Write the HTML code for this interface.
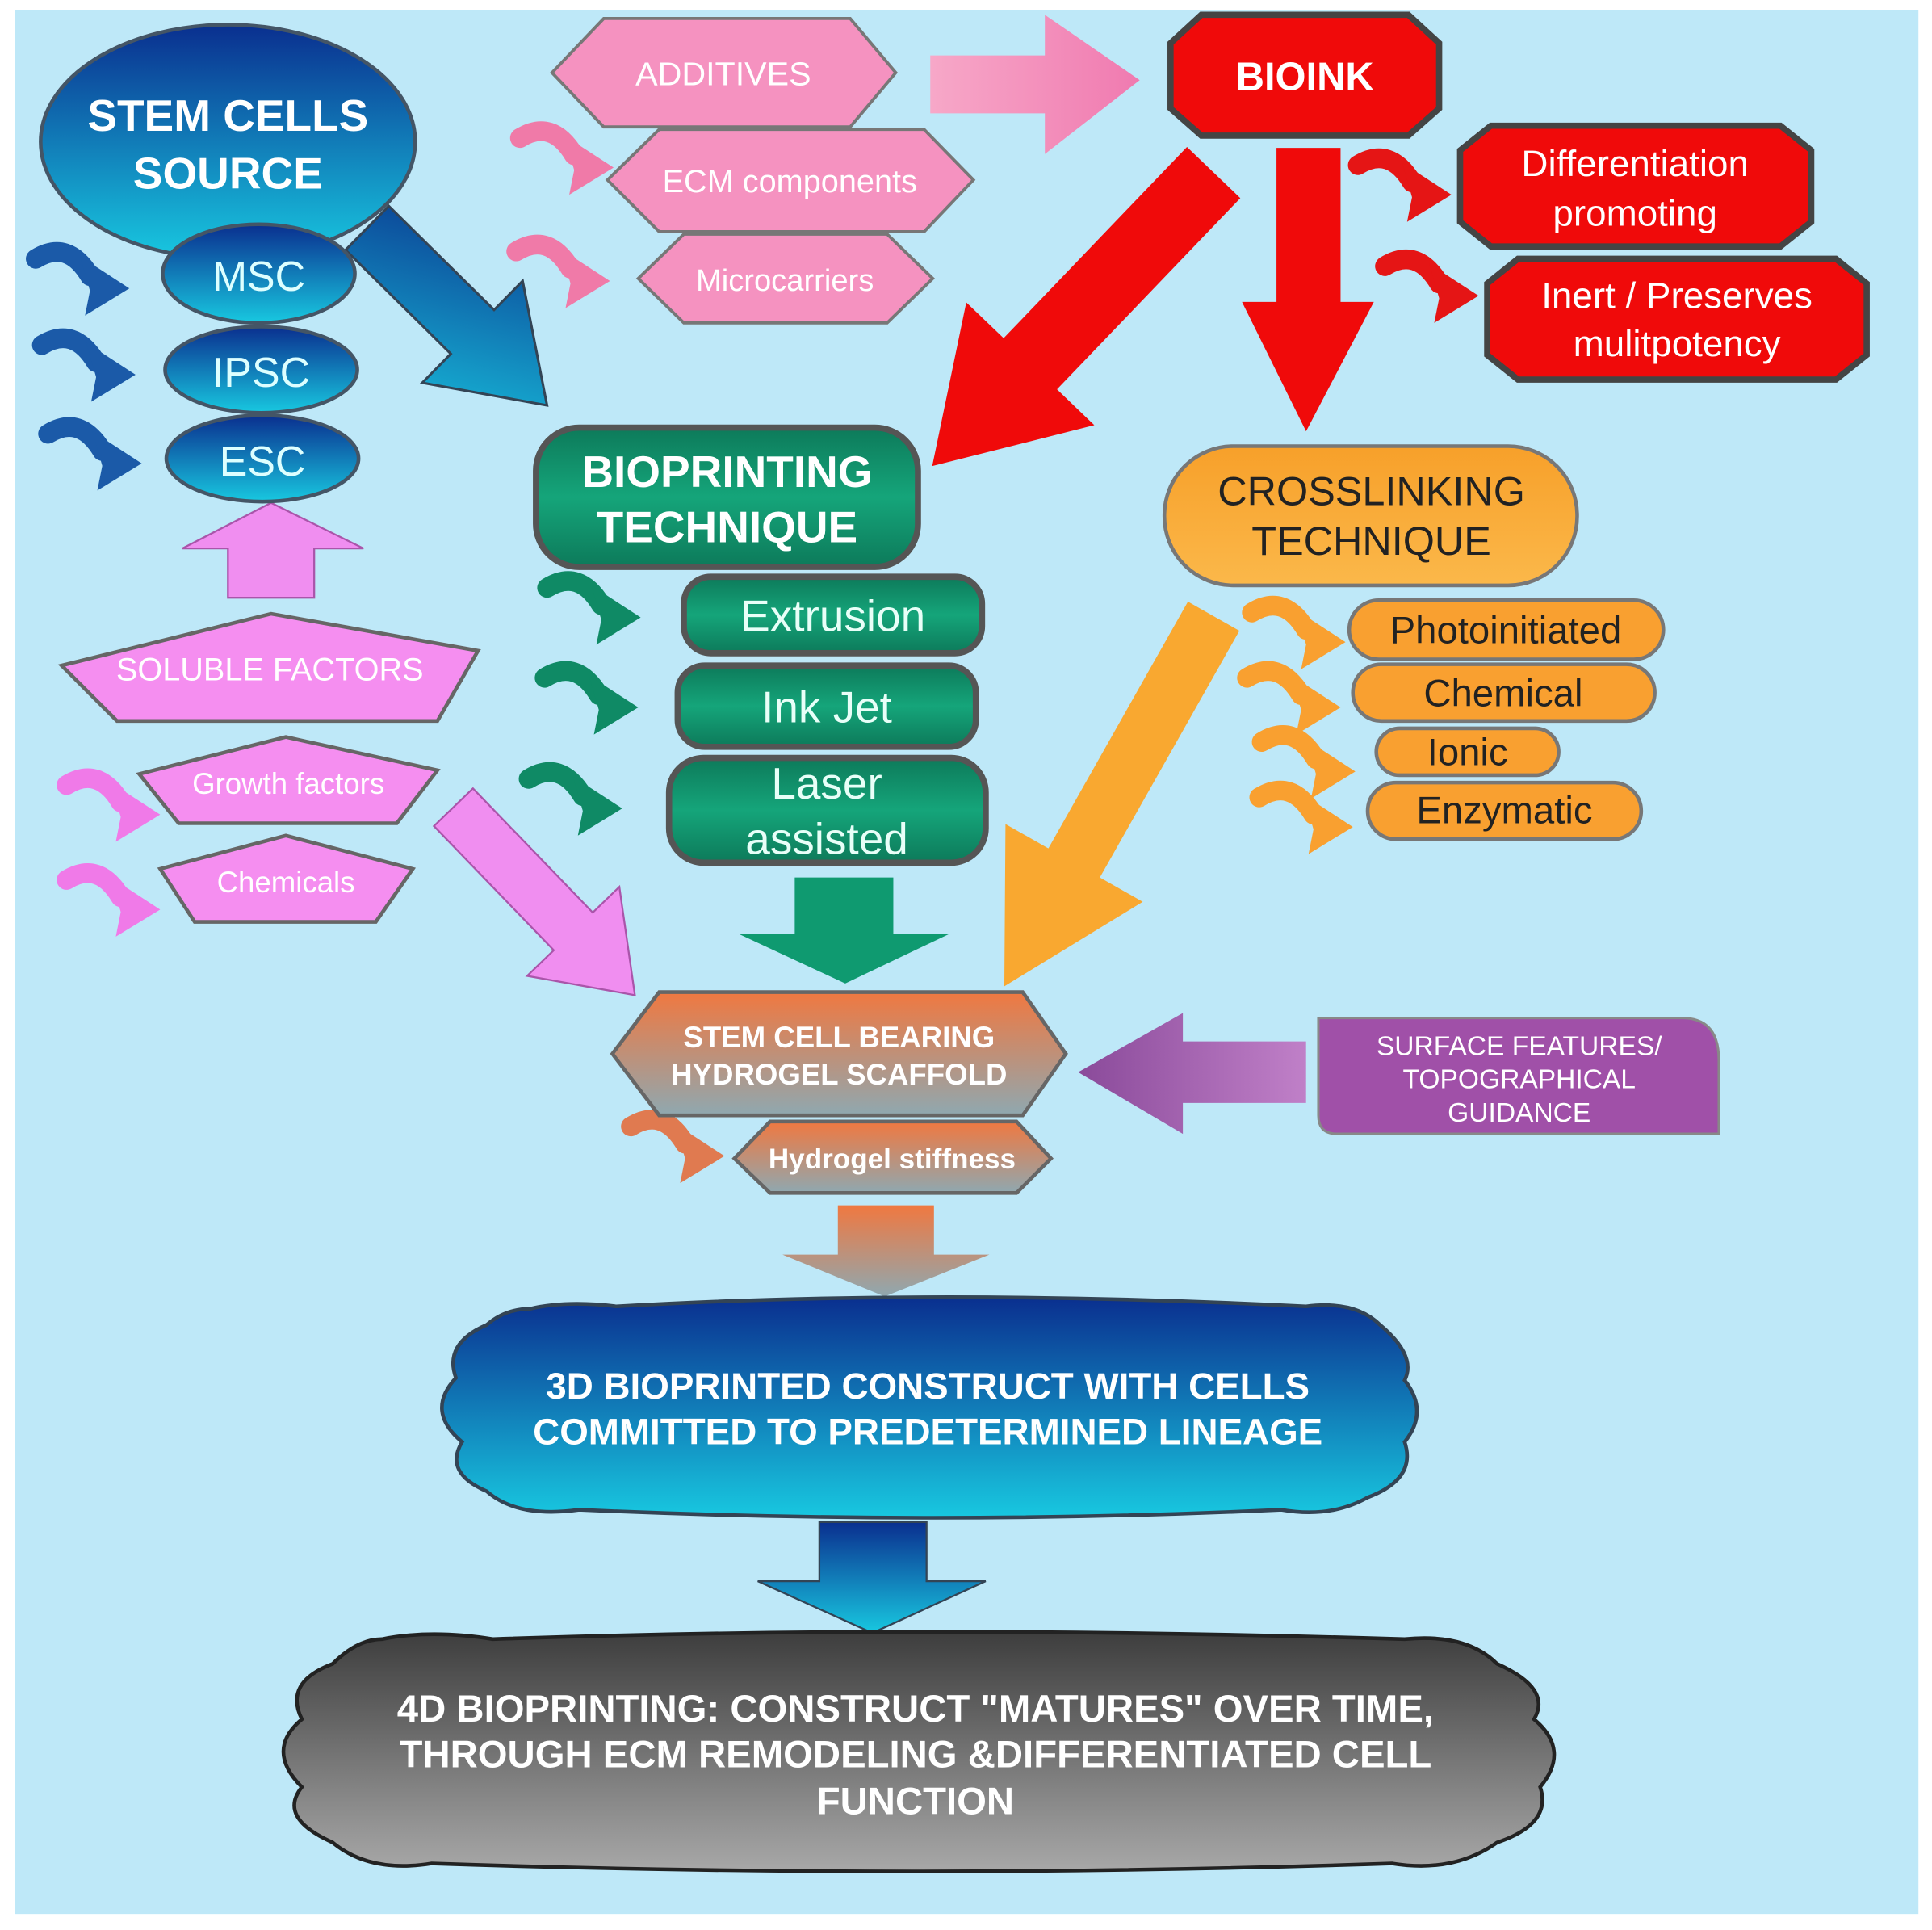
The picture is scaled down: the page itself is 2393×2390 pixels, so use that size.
<!DOCTYPE html>
<html><head><meta charset="utf-8"><style>
html,body{margin:0;padding:0;background:#fff;}
svg{display:block;}
text{font-family:"Liberation Sans",Arial,sans-serif;}
</style></head><body>
<svg width="2393" height="2390" viewBox="0 0 1568 1566" preserveAspectRatio="none" xmlns="http://www.w3.org/2000/svg">
<defs>
<linearGradient id="gb" x1="0" y1="0" x2="0" y2="1"><stop offset="0" stop-color="#0a2f8f"/><stop offset="1" stop-color="#18c8e0"/></linearGradient>
<linearGradient id="gbd" x1="0" y1="0" x2="1" y2="1"><stop offset="0" stop-color="#0a3890"/><stop offset="1" stop-color="#18c0dc"/></linearGradient>
<linearGradient id="gg" x1="0" y1="0" x2="0" y2="1"><stop offset="0" stop-color="#0d7a5a"/><stop offset="0.5" stop-color="#15a57a"/><stop offset="1" stop-color="#0d7a5a"/></linearGradient>
<linearGradient id="go" x1="0" y1="0" x2="0" y2="1"><stop offset="0" stop-color="#f7a02a"/><stop offset="1" stop-color="#fbb84a"/></linearGradient>
<linearGradient id="gog" x1="0" y1="0" x2="0" y2="1"><stop offset="0" stop-color="#f07840"/><stop offset="1" stop-color="#8fa8b0"/></linearGradient>
<linearGradient id="ggray" x1="0" y1="0" x2="0" y2="1"><stop offset="0" stop-color="#3d3d3d"/><stop offset="1" stop-color="#a8a8a8"/></linearGradient>
<linearGradient id="gp" x1="0" y1="0" x2="1" y2="0"><stop offset="0" stop-color="#f7a8c8"/><stop offset="1" stop-color="#f07ab0"/></linearGradient>
<linearGradient id="gpur" x1="0" y1="0" x2="1" y2="0"><stop offset="0" stop-color="#8a4a9a"/><stop offset="1" stop-color="#c080c8"/></linearGradient>
<g id="curl"><path d="M4,12 Q30,-4 48,26" fill="none" stroke="currentColor" stroke-width="16" stroke-linecap="round"/><polygon points="40,10 80,36 44,58 48,38" fill="currentColor"/></g>
</defs>
<rect x="0" y="0" width="1568" height="1566" fill="#fff"/>
<rect x="12" y="8" width="1545" height="1545" fill="#bee8f8"/>

<!-- small curls -->
<use href="#curl" x="25" y="198" style="color:#1b5aa8"/>
<use href="#curl" x="30" y="268" style="color:#1b5aa8"/>
<use href="#curl" x="35" y="340" style="color:#1b5aa8"/>
<use href="#curl" x="418" y="100" style="color:#f07aa8"/>
<use href="#curl" x="415" y="192" style="color:#f07aa8"/>
<use href="#curl" x="50" y="625" style="color:#f07ae8"/>
<use href="#curl" x="50" y="702" style="color:#f07ae8"/>
<use href="#curl" x="440" y="465" style="color:#0f8a65"/>
<use href="#curl" x="438" y="538" style="color:#0f8a65"/>
<use href="#curl" x="425" y="620" style="color:#0f8a65"/>
<use href="#curl" x="1098" y="122" style="color:#e51515"/>
<use href="#curl" x="1120" y="204" style="color:#e51515"/>
<use href="#curl" x="1012" y="485" style="color:#f9a030"/>
<use href="#curl" x="1008" y="538" style="color:#f9a030"/>
<use href="#curl" x="1020" y="590" style="color:#f9a030"/>
<use href="#curl" x="1018" y="635" style="color:#f9a030"/>
<use href="#curl" x="508" y="902" style="color:#e07a50"/>

<!-- big arrows -->
<g transform="translate(298,185) rotate(44.6)"><polygon points="0,-25 120,-25 120,-58 205,0 120,58 120,25 0,25" fill="url(#gbd)" stroke="#345" stroke-width="2"/></g>
<g transform="translate(985,140) rotate(133.8)"><polygon points="0,-30 215,-30 215,-72 330,0 215,72 215,30 0,30" fill="#f00a0a"/></g>
<g transform="translate(985,500) rotate(119.5)"><polygon points="0,-24 230,-24 230,-64 345,0 230,64 230,24 0,24" fill="#f9a830"/></g>
<g transform="translate(368,655) rotate(46)"><polygon points="0,-22 140,-22 140,-52 212,0 140,52 140,22 0,22" fill="#f08ef0" stroke="#a5a" stroke-width="1.5"/></g>
<polygon points="755,45 848,45 848,12 925,65 848,125 848,92 755,92" fill="url(#gp)"/>
<polygon points="1036,120 1088,120 1088,245 1115,245 1060,350 1008,245 1036,245" fill="#f00a0a"/>
<polygon points="185,485 255,485 255,445 295,445 220,408 148,445 185,445" fill="#f08ef0" stroke="#a5a" stroke-width="1.5"/>
<polygon points="645,712 725,712 725,758 770,758 686,798 600,758 645,758" fill="#0f9a70"/>
<polygon points="1060,845 960,845 960,822 875,870 960,920 960,895 1060,895" fill="url(#gpur)"/>
<polygon points="680,978 758,978 758,1018 803,1018 718,1052 635,1018 680,1018" fill="url(#gog)"/>
<polygon points="665,1235 752,1235 752,1283 800,1283 708,1325 615,1283 665,1283" fill="url(#gb)" stroke="#345" stroke-width="1.5"/>

<!-- stem cells -->
<ellipse cx="185" cy="115" rx="152" ry="95" fill="url(#gb)" stroke="#456" stroke-width="3"/>
<text x="185" y="106" font-size="36" font-weight="bold" fill="#fff" text-anchor="middle">STEM CELLS</text>
<text x="185" y="153" font-size="36" font-weight="bold" fill="#fff" text-anchor="middle">SOURCE</text>
<ellipse cx="210" cy="222" rx="78" ry="40" fill="url(#gb)" stroke="#456" stroke-width="3"/>
<text x="210" y="236" font-size="34" fill="#dff" text-anchor="middle">MSC</text>
<ellipse cx="212" cy="300" rx="78" ry="35" fill="url(#gb)" stroke="#456" stroke-width="3"/>
<text x="212" y="314" font-size="34" fill="#dff" text-anchor="middle">IPSC</text>
<ellipse cx="213" cy="372" rx="78" ry="35" fill="url(#gb)" stroke="#456" stroke-width="3"/>
<text x="213" y="386" font-size="34" fill="#dff" text-anchor="middle">ESC</text>

<!-- soluble -->
<polygon points="50,540 220,498 388,528 355,585 95,585" fill="#f58ef0" stroke="#666" stroke-width="3"/>
<text x="219" y="552" font-size="26" fill="#fff" text-anchor="middle">SOLUBLE FACTORS</text>
<polygon points="113,628 232,598 355,625 322,668 145,668" fill="#f58ef0" stroke="#666" stroke-width="3"/>
<text x="234" y="644" font-size="24" fill="#fff" text-anchor="middle">Growth factors</text>
<polygon points="130,705 232,678 335,705 305,748 158,748" fill="#f58ef0" stroke="#666" stroke-width="3"/>
<text x="232" y="724" font-size="24" fill="#fff" text-anchor="middle">Chemicals</text>

<!-- pink hexagons -->
<polygon points="448,59 490,15 690,15 727,59 690,103 490,103" fill="#f592c0" stroke="#777" stroke-width="2.5"/>
<text x="587" y="69" font-size="27" fill="#fff" text-anchor="middle">ADDITIVES</text>
<polygon points="493,146 535,105 750,105 790,146 750,188 535,188" fill="#f592c0" stroke="#777" stroke-width="2.5"/>
<text x="641" y="156" font-size="26" fill="#fff" text-anchor="middle">ECM components</text>
<polygon points="518,226 555,190 720,190 757,226 720,262 555,262" fill="#f592c0" stroke="#777" stroke-width="2.5"/>
<text x="637" y="236" font-size="25" fill="#fff" text-anchor="middle">Microcarriers</text>

<!-- red -->
<polygon points="975,12 1143,12 1168,35 1168,88 1143,110 975,110 950,88 950,35" fill="#f00a0a" stroke="#444" stroke-width="5"/>
<text x="1059" y="73" font-size="32" font-weight="bold" fill="#fff" text-anchor="middle">BIOINK</text>
<polygon points="1210,102 1445,102 1470,122 1470,180 1445,200 1210,200 1185,180 1185,122" fill="#f00a0a" stroke="#444" stroke-width="5"/>
<text x="1327" y="143" font-size="30" fill="#fff" text-anchor="middle">Differentiation</text>
<text x="1327" y="183" font-size="30" fill="#fff" text-anchor="middle">promoting</text>
<polygon points="1232,210 1490,210 1515,230 1515,288 1490,308 1232,308 1207,288 1207,230" fill="#f00a0a" stroke="#444" stroke-width="5"/>
<text x="1361" y="250" font-size="30" fill="#fff" text-anchor="middle">Inert / Preserves</text>
<text x="1361" y="289" font-size="30" fill="#fff" text-anchor="middle">mulitpotency</text>

<!-- green -->
<rect x="435" y="347" width="310" height="113" rx="35" fill="url(#gg)" stroke="#555" stroke-width="5"/>
<text x="590" y="395" font-size="36" font-weight="bold" fill="#fff" text-anchor="middle">BIOPRINTING</text>
<text x="590" y="440" font-size="36" font-weight="bold" fill="#fff" text-anchor="middle">TECHNIQUE</text>
<rect x="555" y="468" width="242" height="62" rx="22" fill="url(#gg)" stroke="#555" stroke-width="5"/>
<text x="676" y="512" font-size="36" fill="#e8fff8" text-anchor="middle">Extrusion</text>
<rect x="550" y="540" width="242" height="66" rx="22" fill="url(#gg)" stroke="#555" stroke-width="5"/>
<text x="671" y="586" font-size="36" fill="#e8fff8" text-anchor="middle">Ink Jet</text>
<rect x="543" y="615" width="257" height="85" rx="28" fill="url(#gg)" stroke="#555" stroke-width="5"/>
<text x="671" y="648" font-size="36" fill="#e8fff8" text-anchor="middle">Laser</text>
<text x="671" y="693" font-size="36" fill="#e8fff8" text-anchor="middle">assisted</text>

<!-- orange -->
<rect x="945" y="362" width="335" height="113" rx="56" fill="url(#go)" stroke="#777" stroke-width="3"/>
<text x="1113" y="410" font-size="33" fill="#222" text-anchor="middle">CROSSLINKING</text>
<text x="1113" y="450" font-size="33" fill="#222" text-anchor="middle">TECHNIQUE</text>
<rect x="1095" y="487" width="255" height="48" rx="24" fill="#f9a030" stroke="#777" stroke-width="3"/>
<text x="1222" y="522" font-size="31" fill="#222" text-anchor="middle">Photoinitiated</text>
<rect x="1098" y="539" width="245" height="46" rx="23" fill="#f9a030" stroke="#777" stroke-width="3"/>
<text x="1220" y="573" font-size="31" fill="#222" text-anchor="middle">Chemical</text>
<rect x="1117" y="591" width="148" height="38" rx="19" fill="#f9a030" stroke="#777" stroke-width="3"/>
<text x="1191" y="621" font-size="31" fill="#222" text-anchor="middle">Ionic</text>
<rect x="1110" y="635" width="222" height="46" rx="23" fill="#f9a030" stroke="#777" stroke-width="3"/>
<text x="1221" y="668" font-size="31" fill="#222" text-anchor="middle">Enzymatic</text>

<!-- scaffold -->
<polygon points="497,855 535,805 830,805 865,855 830,905 535,905" fill="url(#gog)" stroke="#666" stroke-width="3"/>
<text x="681" y="850" font-size="24" font-weight="bold" fill="#fff" text-anchor="middle">STEM CELL BEARING</text>
<text x="681" y="880" font-size="24" font-weight="bold" fill="#fff" text-anchor="middle">HYDROGEL SCAFFOLD</text>
<polygon points="596,940 625,910 825,910 853,940 825,968 625,968" fill="url(#gog)" stroke="#666" stroke-width="3"/>
<text x="724" y="948" font-size="23" font-weight="bold" fill="#fff" text-anchor="middle">Hydrogel stiffness</text>
<path d="M1070,826 L1365,826 Q1395,826 1395,860 L1395,920 L1085,920 Q1070,920 1070,905 Z" fill="#a050a8" stroke="#888" stroke-width="2"/>
<text x="1233" y="856" font-size="22" fill="#fff" text-anchor="middle">SURFACE FEATURES/</text>
<text x="1233" y="883" font-size="22" fill="#fff" text-anchor="middle">TOPOGRAPHICAL</text>
<text x="1233" y="910" font-size="22" fill="#fff" text-anchor="middle">GUIDANCE</text>

<!-- clouds -->
<path d="M430,1062 Q460,1055 500,1060 Q760,1045 1060,1060 Q1100,1055 1120,1075 Q1150,1100 1140,1120 Q1160,1145 1140,1170 Q1150,1200 1110,1215 Q1080,1232 1040,1225 Q760,1238 470,1225 Q420,1232 395,1210 Q360,1195 375,1170 Q345,1145 370,1118 Q360,1090 395,1075 Q410,1062 430,1062 Z" fill="url(#gb)" stroke="#345" stroke-width="3"/>
<text x="753" y="1135" font-size="30" font-weight="bold" fill="#fff" text-anchor="middle">3D BIOPRINTED CONSTRUCT WITH CELLS</text>
<text x="753" y="1172" font-size="30" font-weight="bold" fill="#fff" text-anchor="middle">COMMITTED TO PREDETERMINED LINEAGE</text>
<path d="M310,1330 Q350,1322 400,1330 Q740,1318 1140,1330 Q1190,1325 1215,1350 Q1260,1370 1245,1395 Q1275,1420 1250,1450 Q1260,1480 1215,1495 Q1180,1520 1130,1512 Q740,1525 350,1512 Q300,1520 270,1495 Q225,1475 245,1450 Q215,1420 245,1395 Q230,1365 270,1350 Q290,1330 310,1330 Z" fill="url(#ggray)" stroke="#222" stroke-width="3"/>
<text x="743" y="1397" font-size="31" font-weight="bold" fill="#fff" text-anchor="middle">4D BIOPRINTING: CONSTRUCT "MATURES" OVER TIME,</text>
<text x="743" y="1434" font-size="31" font-weight="bold" fill="#fff" text-anchor="middle">THROUGH ECM REMODELING &amp;DIFFERENTIATED CELL</text>
<text x="743" y="1472" font-size="31" font-weight="bold" fill="#fff" text-anchor="middle">FUNCTION</text>
</svg>
</body></html>
